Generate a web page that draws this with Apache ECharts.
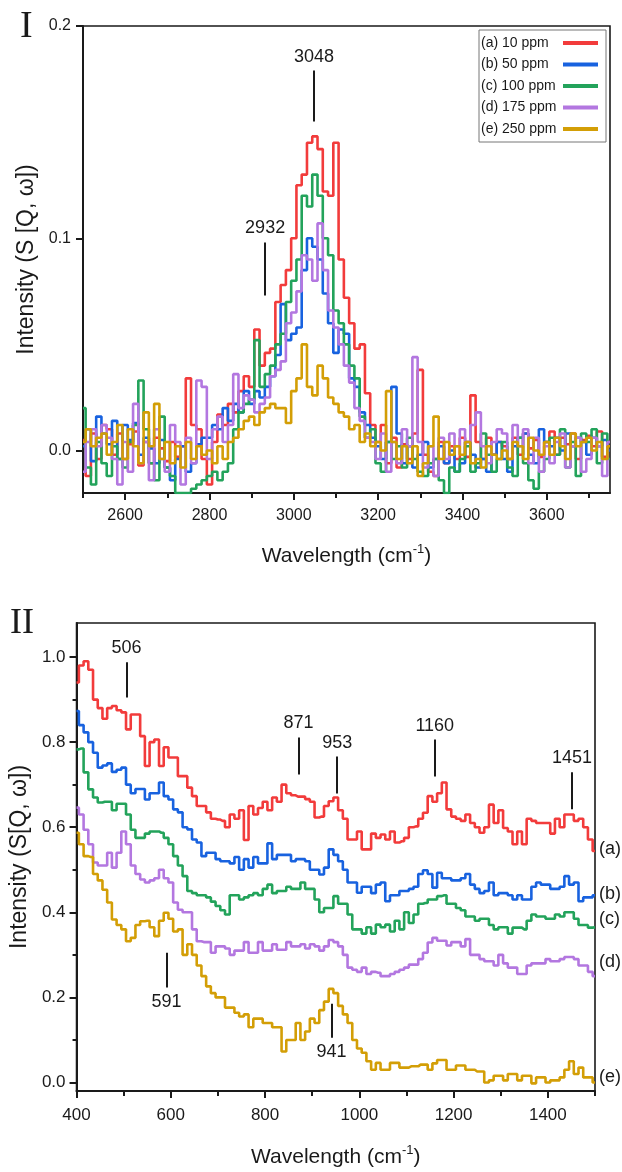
<!DOCTYPE html>
<html>
<head>
<meta charset="utf-8">
<script src="https://cdn.jsdelivr.net/npm/echarts@6/dist/echarts.min.js"></script>
<style>
html,body{margin:0;padding:0;background:#fff;}
#chart{width:622px;height:1172px;}
</style>
</head>
<body>
<div id="chart"></div>
<script>
// ---------- DATA ----------
const SERIES_NAMES = ['(a) 10 ppm', '(b) 50 ppm', '(c) 100 ppm', '(d) 175 ppm', '(e) 250 ppm'];
const SIDE_TAGS = ['(a)', '(b)', '(c)', '(d)', '(e)'];

// Panel I : wavenumber grid (cm-1)
const TOP_WAVE = [2500, 2512.5, 2525, 2537.5, 2550, 2562.5, 2575, 2587.5, 2600, 2612.5, 2625, 2637.5, 2650, 2662.5, 2675, 2687.5,
  2700, 2712.5, 2725, 2737.5, 2750, 2762.5, 2775, 2787.5, 2800, 2812.5, 2825, 2837.5, 2850, 2862.5, 2875, 2887.5,
  2900, 2912.5, 2925, 2937.5, 2950, 2962.5, 2975, 2987.5, 3000, 3012.5, 3025, 3037.5, 3050, 3062.5, 3075, 3087.5,
  3100, 3112.5, 3125, 3137.5, 3150, 3162.5, 3175, 3187.5, 3200, 3212.5, 3225, 3237.5, 3250, 3262.5, 3275, 3287.5,
  3300, 3312.5, 3325, 3337.5, 3350, 3362.5, 3375, 3387.5, 3400, 3412.5, 3425, 3437.5, 3450, 3462.5, 3475, 3487.5,
  3500, 3512.5, 3525, 3537.5, 3550, 3562.5, 3575, 3587.5, 3600, 3612.5, 3625, 3637.5, 3650, 3662.5, 3675, 3687.5,
  3700, 3712.5, 3725, 3737.5, 3750];

const TOP_A = [0.005, -0.012, 0.008, -0.004, 0.012, 0.010, -0.002, 0.008,
  -0.004, 0.003, 0.009, -0.007, 0.004, -0.006, 0.006, 0.001,
  -0.005, 0.004, -0.003, 0.002, 0.034, 0.012, 0.010, -0.004,
  -0.016, 0.004, 0.017, 0.012, 0.022, 0.018, 0.028, 0.035,
  0.030, 0.057, 0.040, 0.046, 0.048, 0.070, 0.078, 0.085,
  0.100, 0.125, 0.130, 0.145, 0.148, 0.142, 0.122, 0.120,
  0.145, 0.090, 0.072, 0.060, 0.048, 0.050, 0.027, 0.012,
  0.004, 0.012, -0.006, 0.006, -0.008, 0.003, -0.004, 0.008,
  0.038, -0.002, -0.010, -0.012, 0.004, -0.006, 0.002, -0.004,
  0.006, -0.003, 0.026, 0.004, -0.004, 0.006, -0.002, 0.004,
  0.002, -0.004, 0.006, -0.002, 0.008, 0.001, 0.005, -0.003,
  0.004, 0.009, -0.002, 0.006, 0.003, 0.008, -0.004, 0.005,
  0.007, 0.002, 0.009, -0.003, 0.004];
const TOP_B = [0.002, 0.010, -0.005, 0.016, 0.008, 0.003, 0.014, -0.004,
  0.012, 0.005, 0.013, -0.002, 0.006, 0.001, -0.006, 0.005,
  -0.008, -0.014, -0.004, 0.002, -0.010, -0.006, 0.003, 0.006,
  0.006, 0.012, 0.010, 0.020, 0.014, 0.022, 0.018, 0.028,
  0.022, 0.028, 0.025, 0.030, 0.035, 0.045, 0.069, 0.052,
  0.055, 0.058, 0.085, 0.100, 0.096, 0.090, 0.074, 0.060,
  0.046, 0.057, 0.055, 0.034, 0.030, 0.018, 0.012, 0.006,
  0.002, -0.004, 0.004, 0.030, 0.008, -0.006, 0.002, -0.008,
  -0.002, 0.004, -0.008, -0.004, 0.002, -0.006, 0.000, -0.010,
  -0.006, 0.004, -0.002, -0.008, -0.004, -0.010, -0.002, 0.004,
  -0.004, -0.010, 0.002, 0.006, 0.008, -0.002, -0.006, 0.010,
  0.004, 0.002, 0.006, 0.000, 0.008, 0.002, 0.006, 0.004,
  -0.002, 0.006, 0.002, 0.005, 0.000];
const TOP_C = [0.020, -0.008, -0.016, 0.004, -0.006, -0.012, 0.002, -0.004,
  -0.008, 0.004, 0.012, 0.033, 0.010, -0.006, -0.014, 0.016,
  -0.008, -0.012, -0.020, -0.020, -0.020, -0.018, -0.016, -0.014,
  -0.012, -0.010, -0.014, -0.010, -0.006, 0.010, 0.018, 0.022,
  0.024, 0.052, 0.030, 0.036, 0.040, 0.050, 0.055, 0.070,
  0.080, 0.090, 0.120, 0.115, 0.130, 0.120, 0.100, 0.092,
  0.066, 0.060, 0.050, 0.040, 0.034, 0.016, 0.006, 0.010,
  -0.006, -0.010, 0.004, -0.004, 0.002, -0.008, 0.006, -0.004,
  -0.010, -0.012, -0.006, -0.004, -0.014, -0.020, -0.008, -0.010,
  -0.004, 0.002, -0.010, -0.006, 0.008, -0.002, -0.010, -0.004,
  0.004, -0.008, -0.012, 0.006, -0.006, -0.014, -0.018, -0.010,
  -0.004, 0.006, -0.002, 0.010, -0.008, 0.004, -0.012, 0.008,
  0.004, 0.010, -0.006, 0.008, -0.004];
const TOP_D = [-0.010, 0.004, 0.010, 0.002, 0.012, 0.006, -0.004, -0.016,
  0.004, -0.010, 0.022, -0.006, 0.004, -0.014, 0.010, -0.004,
  -0.010, 0.012, 0.004, -0.016, 0.006, -0.006, 0.033, 0.030,
  -0.004, 0.010, 0.016, 0.004, 0.012, 0.036, 0.020, 0.026,
  0.024, 0.018, 0.022, 0.025, 0.035, 0.038, 0.042, 0.060,
  0.065, 0.075, 0.092, 0.090, 0.080, 0.107, 0.085, 0.066,
  0.058, 0.050, 0.040, 0.032, 0.020, 0.014, 0.006, 0.004,
  -0.004, 0.008, -0.010, 0.004, -0.006, 0.010, 0.002, 0.044,
  0.004, -0.008, 0.002, -0.012, 0.006, -0.004, 0.008, 0.002,
  0.010, 0.004, 0.012, 0.018, 0.002, -0.006, 0.004, 0.010,
  0.008, -0.004, 0.012, 0.002, 0.010, -0.006, 0.006, -0.010,
  0.002, -0.006, 0.004, 0.008, -0.008, 0.002, 0.006, -0.010,
  -0.004, 0.006, 0.002, -0.012, 0.004];
const TOP_E = [0.004, 0.010, 0.002, 0.006, 0.008, -0.002, 0.004, 0.012,
  -0.004, 0.010, 0.002, -0.006, 0.018, 0.002, 0.022, -0.004,
  0.004, -0.006, 0.002, -0.008, 0.004, -0.004, 0.002, -0.002,
  0.000, -0.006, 0.002, -0.004, 0.004, 0.006, 0.010, 0.014,
  0.016, 0.012, 0.018, 0.020, 0.022, 0.020, 0.020, 0.013,
  0.028, 0.034, 0.050, 0.030, 0.026, 0.040, 0.034, 0.025,
  0.022, 0.018, 0.016, 0.010, 0.012, 0.004, 0.008, 0.002,
  0.004, 0.000, 0.028, 0.004, -0.004, 0.002, -0.006, 0.002,
  -0.012, -0.006, 0.002, 0.016, -0.004, 0.004, -0.002, 0.002,
  -0.002, 0.004, -0.006, -0.004, -0.008, 0.002, -0.002, -0.004,
  0.000, -0.004, 0.004, 0.002, -0.004, 0.006, 0.000, -0.002,
  0.004, -0.002, 0.006, 0.002, -0.004, 0.008, 0.002, 0.004,
  0.006, 0.000, 0.004, -0.004, 0.002];

// Panel II : wavenumber grid (cm-1)
const BOT_WAVE = [400, 410, 420, 430, 440, 450, 460, 470, 480, 490,
  500, 510, 520, 530, 540, 550, 560, 570, 580, 590,
  600, 610, 620, 630, 640, 650, 660, 670, 680, 690,
  700, 710, 720, 730, 740, 750, 760, 770, 780, 790,
  800, 810, 820, 830, 840, 850, 860, 870, 880, 890,
  900, 910, 920, 930, 940, 950, 960, 970, 980, 990,
  1000, 1010, 1020, 1030, 1040, 1050, 1060, 1070, 1080, 1090,
  1100, 1110, 1120, 1130, 1140, 1150, 1160, 1170, 1180, 1190,
  1200, 1210, 1220, 1230, 1240, 1250, 1260, 1270, 1280, 1290,
  1300, 1310, 1320, 1330, 1340, 1350, 1360, 1370, 1380, 1390,
  1400, 1410, 1420, 1430, 1440, 1450, 1460, 1470, 1480, 1490,
  1500];

const BOT_A = [0.94, 0.98, 0.99, 0.97, 0.90, 0.88, 0.855, 0.88, 0.885, 0.875,
  0.87, 0.83, 0.865, 0.865, 0.814, 0.744, 0.80, 0.806, 0.744, 0.788,
  0.764, 0.764, 0.72, 0.72, 0.693, 0.673, 0.65, 0.65, 0.635, 0.62,
  0.618, 0.615, 0.60, 0.63, 0.62, 0.64, 0.57, 0.65, 0.63, 0.645,
  0.66, 0.64, 0.67, 0.66, 0.70, 0.68, 0.675, 0.672, 0.672, 0.666,
  0.66, 0.623, 0.625, 0.65, 0.661, 0.67, 0.64, 0.62, 0.571, 0.571,
  0.59, 0.548, 0.548, 0.585, 0.575, 0.583, 0.571, 0.59, 0.564, 0.567,
  0.575, 0.60, 0.602, 0.62, 0.634, 0.673, 0.66, 0.68, 0.705, 0.642,
  0.625, 0.62, 0.615, 0.63, 0.61, 0.60, 0.587, 0.60, 0.653, 0.61,
  0.64, 0.598, 0.59, 0.56, 0.59, 0.56, 0.62, 0.615, 0.61, 0.61,
  0.61, 0.585, 0.62, 0.60, 0.63, 0.63, 0.615, 0.62, 0.60, 0.571,
  0.544];
const BOT_B = [0.873, 0.84, 0.823, 0.80, 0.775, 0.74, 0.745, 0.75, 0.73, 0.735,
  0.74, 0.70, 0.68, 0.69, 0.69, 0.665, 0.68, 0.68, 0.705, 0.673,
  0.665, 0.642, 0.635, 0.60, 0.595, 0.571, 0.564, 0.532, 0.54, 0.54,
  0.525, 0.52, 0.52, 0.515, 0.53, 0.50, 0.525, 0.505, 0.53, 0.515,
  0.515, 0.562, 0.525, 0.535, 0.535, 0.535, 0.52, 0.525, 0.525, 0.52,
  0.50, 0.50, 0.489, 0.505, 0.548, 0.535, 0.52, 0.50, 0.47, 0.47,
  0.446, 0.46, 0.46, 0.445, 0.465, 0.47, 0.426, 0.44, 0.44, 0.45,
  0.45, 0.455, 0.46, 0.49, 0.499, 0.49, 0.458, 0.493, 0.48, 0.48,
  0.475, 0.475, 0.48, 0.49, 0.465, 0.455, 0.445, 0.45, 0.47, 0.44,
  0.445, 0.445, 0.44, 0.43, 0.44, 0.43, 0.43, 0.46, 0.47, 0.465,
  0.465, 0.455, 0.455, 0.46, 0.485, 0.465, 0.47, 0.426, 0.435, 0.435,
  0.44];
const BOT_C = [0.783, 0.785, 0.729, 0.689, 0.67, 0.658, 0.66, 0.66, 0.64, 0.655,
  0.655, 0.63, 0.594, 0.575, 0.575, 0.585, 0.59, 0.59, 0.587, 0.575,
  0.56, 0.532, 0.51, 0.485, 0.45, 0.445, 0.44, 0.44, 0.435, 0.425,
  0.415, 0.405, 0.395, 0.44, 0.44, 0.43, 0.435, 0.44, 0.445, 0.44,
  0.455, 0.465, 0.445, 0.45, 0.45, 0.46, 0.455, 0.455, 0.47, 0.455,
  0.455, 0.43, 0.40, 0.41, 0.41, 0.438, 0.42, 0.42, 0.395, 0.36,
  0.36, 0.35, 0.365, 0.35, 0.371, 0.365, 0.371, 0.355, 0.38, 0.36,
  0.40, 0.375, 0.395, 0.42, 0.422, 0.43, 0.43, 0.438, 0.44, 0.42,
  0.42, 0.41, 0.405, 0.39, 0.39, 0.38, 0.385, 0.385, 0.37, 0.36,
  0.365, 0.365, 0.35, 0.364, 0.364, 0.36, 0.38, 0.395, 0.39, 0.39,
  0.385, 0.385, 0.395, 0.39, 0.40, 0.40, 0.385, 0.37, 0.37, 0.364,
  0.365];
const BOT_D = [0.646, 0.63, 0.594, 0.56, 0.517, 0.51, 0.51, 0.54, 0.505, 0.54,
  0.59, 0.56, 0.51, 0.49, 0.477, 0.47, 0.475, 0.48, 0.50, 0.48,
  0.47, 0.423, 0.406, 0.40, 0.40, 0.36, 0.332, 0.33, 0.33, 0.305,
  0.32, 0.32, 0.315, 0.30, 0.31, 0.31, 0.33, 0.305, 0.305, 0.33,
  0.31, 0.31, 0.325, 0.312, 0.312, 0.33, 0.32, 0.32, 0.325, 0.315,
  0.325, 0.32, 0.31, 0.32, 0.335, 0.33, 0.32, 0.30, 0.27, 0.265,
  0.26, 0.27, 0.255, 0.26, 0.258, 0.25, 0.25, 0.255, 0.26, 0.265,
  0.27, 0.277, 0.277, 0.29, 0.305, 0.329, 0.34, 0.333, 0.333, 0.322,
  0.33, 0.33, 0.32, 0.337, 0.30, 0.30, 0.29, 0.285, 0.285, 0.275,
  0.30, 0.28, 0.27, 0.27, 0.255, 0.255, 0.275, 0.28, 0.28, 0.28,
  0.29, 0.285, 0.285, 0.29, 0.295, 0.295, 0.29, 0.275, 0.275, 0.26,
  0.25];
const BOT_E = [0.587, 0.56, 0.532, 0.53, 0.49, 0.475, 0.453, 0.423, 0.383, 0.37,
  0.36, 0.332, 0.34, 0.37, 0.379, 0.38, 0.365, 0.344, 0.38, 0.399,
  0.385, 0.355, 0.36, 0.30, 0.325, 0.30, 0.275, 0.25, 0.226, 0.21,
  0.20, 0.20, 0.176, 0.176, 0.164, 0.155, 0.16, 0.13, 0.15, 0.15,
  0.14, 0.14, 0.13, 0.13, 0.073, 0.10, 0.10, 0.14, 0.10, 0.12,
  0.15, 0.14, 0.17, 0.19, 0.22, 0.21, 0.18, 0.16, 0.14, 0.10,
  0.08, 0.07, 0.05, 0.03, 0.046, 0.03, 0.03, 0.046, 0.046, 0.035,
  0.035, 0.038, 0.038, 0.042, 0.042, 0.03, 0.045, 0.053, 0.053, 0.03,
  0.03, 0.04, 0.04, 0.03, 0.03, 0.026, 0.026, 0.0, 0.005, 0.016,
  0.016, 0.005, 0.02, 0.02, 0.005, 0.016, 0.016, -0.002, 0.012, 0.012,
  0.0, 0.005, 0.005, 0.012, 0.03, 0.05, 0.02, 0.035, 0.012, 0.012,
  0.0];

// Axis ticks
const TOP_X_LABELS = [2600, 2800, 3000, 3200, 3400, 3600];
const TOP_X_MINOR = [2500, 2700, 2900, 3100, 3300, 3500, 3700];
const TOP_Y_LABELS = [0, 0.1, 0.2];
const BOT_X_LABELS = [400, 600, 800, 1000, 1200, 1400];
const BOT_X_MINOR = [500, 700, 900, 1100, 1300, 1500];
const BOT_Y_LABELS = [0, 0.2, 0.4, 0.6, 0.8, 1.0];
const BOT_Y_MINOR = [0.1, 0.3, 0.5, 0.7, 0.9];

// Peak annotations (wavenumber, line from / to intensity, text)
const TOP_PEAKS = [
  { wn: 3048, from: 0.155, to: 0.179, text: '3048' },
  { wn: 2932, from: 0.073, to: 0.098, text: '2932' }
];
const BOT_PEAKS = [
  { wn: 506, from: 0.905, to: 0.988, text: '506' },
  { wn: 871, from: 0.724, to: 0.811, text: '871' },
  { wn: 953, from: 0.679, to: 0.766, text: '953' },
  { wn: 1160, from: 0.719, to: 0.806, text: '1160' },
  { wn: 1451, from: 0.642, to: 0.729, text: '1451' },
  { wn: 591, from: 0.305, to: 0.223, text: '591' },
  { wn: 941, from: 0.185, to: 0.105, text: '941' }
];

// ---------- STYLE ----------
const COLORS = ['#f23b3b', '#1862df', '#23a35b', '#b377e0', '#d39e06'];
const TAG_NUDGE = [-2, -1, -8, -14, -5];
const FONT = '"Liberation Sans", Arial, sans-serif';
const SERIF = '"Liberation Serif", "DejaVu Serif", serif';
const INK = '#1a1a1a';

const TOP_SETS = [TOP_A, TOP_B, TOP_C, TOP_D, TOP_E];
const BOT_SETS = [BOT_A, BOT_B, BOT_C, BOT_D, BOT_E];

function pairs(xs, ys) { return xs.map((x, i) => [x, ys[i]]); }

function peakMarkLine(peaks) {
  return {
    silent: true,
    symbol: ['none', 'none'],
    lineStyle: { color: INK, width: 2, type: 'solid' },
    label: { show: true, position: 'end', distance: 5, color: INK, fontSize: 18, fontFamily: FONT },
    emphasis: { disabled: true },
    data: peaks.map(p => [
      { coord: [p.wn, p.from] },
      { coord: [p.wn, p.to], label: { formatter: p.text } }
    ])
  };
}

const series = [];
TOP_SETS.forEach((vals, i) => {
  series.push({
    name: SERIES_NAMES[i], type: 'line', step: 'middle', showSymbol: false,
    xAxisIndex: 0, yAxisIndex: 0, z: 2 + i,
    lineStyle: { color: COLORS[i], width: 2.6 }, itemStyle: { color: COLORS[i] },
    data: pairs(TOP_WAVE, vals),
    markLine: i === 0 ? peakMarkLine(TOP_PEAKS) : undefined
  });
});
BOT_SETS.forEach((vals, i) => {
  series.push({
    name: SERIES_NAMES[i], type: 'line', step: 'middle', showSymbol: false,
    xAxisIndex: 2, yAxisIndex: 1, z: 2 + i,
    lineStyle: { color: COLORS[i], width: 2.6 }, itemStyle: { color: COLORS[i] },
    data: pairs(BOT_WAVE, vals),
    endLabel: { show: true, formatter: SIDE_TAGS[i], color: INK, fontSize: 18, fontFamily: FONT, distance: 4, offset: [0, TAG_NUDGE[i]] },
    markLine: i === 0 ? peakMarkLine(BOT_PEAKS) : undefined
  });
});

const axisLine = { show: true, onZero: false, lineStyle: { color: INK, width: 2 } };
const hiddenLine = { show: false, onZero: false };
const labelStyle = { color: INK, fontSize: 16, fontFamily: FONT };
const xName = 'Wavelength (cm{sup|-1})';
const nameRich = { sup: { fontSize: 13, fontFamily: FONT, color: INK, verticalAlign: 'top', lineHeight: 14 } };
const tick = (len, vals) => ({ show: true, inside: false, length: len, lineStyle: { color: INK, width: 2 }, customValues: vals });

const option = {
  animation: false,
  backgroundColor: '#ffffff',
  textStyle: { fontFamily: FONT },
  grid: [
    { left: 83, top: 26, width: 527, height: 467, show: true, borderColor: INK, borderWidth: 1.6, backgroundColor: 'transparent' },
    { left: 75, top: 623, width: 520, height: 468, show: true, borderColor: INK, borderWidth: 1.6, backgroundColor: 'transparent' }
  ],
  legend: {
    data: SERIES_NAMES,
    orient: 'vertical', left: 479, top: 30,
    align: 'right', icon: 'rect', itemWidth: 35, itemHeight: 4, itemGap: 3.5,
    padding: [4, 8, 4, 2],
    borderColor: '#777', borderWidth: 1, backgroundColor: '#fff',
    formatter: name => '{t|' + name + '}',
    textStyle: { color: INK, fontSize: 14, fontFamily: FONT, lineHeight: 18,
      rich: { t: { width: 77, align: 'left', fontSize: 14, fontFamily: FONT, color: INK, lineHeight: 18 } } },
    selectedMode: false
  },
  xAxis: [
    { type: 'value', gridIndex: 0, min: 2500, max: 3750, position: 'bottom',
      axisLine, splitLine: { show: false }, axisTick: tick(7, TOP_X_LABELS),
      axisLabel: { ...labelStyle, margin: 15, customValues: TOP_X_LABELS, formatter: v => String(v) },
      name: xName, nameLocation: 'middle', nameGap: 50,
      nameTextStyle: { color: INK, fontSize: 21, fontFamily: FONT, lineHeight: 26, rich: nameRich } },
    { type: 'value', gridIndex: 0, min: 2500, max: 3750, position: 'bottom',
      axisLine: hiddenLine, splitLine: { show: false }, axisLabel: { show: false }, axisTick: tick(5, TOP_X_MINOR) },
    { type: 'value', gridIndex: 1, min: 400, max: 1500, position: 'bottom',
      axisLine, splitLine: { show: false }, axisTick: tick(7, BOT_X_LABELS),
      axisLabel: { ...labelStyle, fontSize: 17, margin: 16, customValues: BOT_X_LABELS, formatter: v => String(v) },
      name: xName, nameLocation: 'middle', nameGap: 53,
      nameTextStyle: { color: INK, fontSize: 21, fontFamily: FONT, lineHeight: 26, rich: nameRich } },
    { type: 'value', gridIndex: 1, min: 400, max: 1500, position: 'bottom',
      axisLine: hiddenLine, splitLine: { show: false }, axisLabel: { show: false }, axisTick: tick(5, BOT_X_MINOR) }
  ],
  yAxis: [
    { type: 'value', gridIndex: 0, min: -0.02, max: 0.2, position: 'left',
      axisLine, splitLine: { show: false }, axisTick: tick(7, TOP_Y_LABELS),
      axisLabel: { ...labelStyle, margin: 12, customValues: TOP_Y_LABELS, formatter: v => v.toFixed(1) },
      name: 'Intensity (S [Q, ω])', nameLocation: 'middle', nameGap: 41,
      nameTextStyle: { color: INK, fontSize: 23, fontFamily: FONT } },
    { type: 'value', gridIndex: 1, min: -0.02, max: 1.08, position: 'left',
      axisLine, splitLine: { show: false }, axisTick: tick(7, BOT_Y_LABELS),
      axisLabel: { ...labelStyle, fontSize: 17, margin: 11, customValues: BOT_Y_LABELS, formatter: v => v.toFixed(1) },
      name: 'Intensity (S[Q, ω])', nameLocation: 'middle', nameGap: 44,
      nameTextStyle: { color: INK, fontSize: 23, fontFamily: FONT } },
    { type: 'value', gridIndex: 1, min: -0.02, max: 1.08, position: 'left',
      axisLine: hiddenLine, splitLine: { show: false }, axisLabel: { show: false }, axisTick: tick(4, BOT_Y_MINOR) }
  ],
  graphic: [
    { type: 'text', left: 20, top: 8, style: { text: 'I', fontSize: 38, fontFamily: SERIF, fill: INK } },
    { type: 'text', left: 10, top: 606, style: { text: 'II', fontSize: 36, fontFamily: SERIF, fill: INK } }
  ],
  series
};

const chart = echarts.init(document.getElementById('chart'), null, { renderer: 'canvas' });
chart.setOption(option);
</script>
</body>
</html>
